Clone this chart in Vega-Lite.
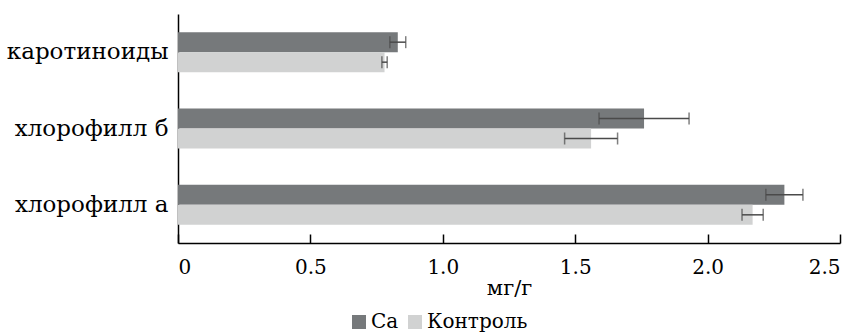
{
  "$schema": "https://vega.github.io/schema/vega-lite/v6.json",
  "autosize": {"type": "none"},
  "padding": {"left": 178, "top": 14, "right": 16, "bottom": 90},
  "width": 662,
  "height": 229,
  "background": "white",
  "config": {
    "font": "DejaVu Serif",
    "view": {"stroke": null},
    "axis": {"grid": false, "domainColor": "black", "tickColor": "black", "labelColor": "black", "titleColor": "black", "labelFont": "DejaVu Serif", "titleFont": "DejaVu Serif", "titleFontWeight": "normal", "labelFontSize": 20, "titleFontSize": 21, "domainWidth": 1.5, "tickWidth": 1.5},
    "legend": {"labelFontSize": 20, "labelColor": "black", "labelFont": "DejaVu Serif"}
  },
  "data": {
    "values": [
      {"pigment": "каротиноиды", "group": "Ca", "value": 0.83, "low": 0.80, "high": 0.86},
      {"pigment": "каротиноиды", "group": "Контроль", "value": 0.78, "low": 0.77, "high": 0.79},
      {"pigment": "хлорофилл б", "group": "Ca", "value": 1.76, "low": 1.59, "high": 1.93},
      {"pigment": "хлорофилл б", "group": "Контроль", "value": 1.56, "low": 1.46, "high": 1.66},
      {"pigment": "хлорофилл а", "group": "Ca", "value": 2.29, "low": 2.22, "high": 2.36},
      {"pigment": "хлорофилл а", "group": "Контроль", "value": 2.17, "low": 2.13, "high": 2.21}
    ]
  },
  "encoding": {
    "y": {"field": "pigment", "type": "nominal", "sort": ["каротиноиды", "хлорофилл б", "хлорофилл а"], "scale": {"paddingInner": 0.476, "paddingOuter": 0.238}, "axis": {"title": null, "ticks": false, "labelPadding": 10, "labelLimit": 200, "labelFont": "DejaVu Serif", "labelFontSize": 23}},
    "yOffset": {"field": "group", "type": "nominal", "sort": ["Ca", "Контроль"], "scale": {"paddingInner": 0, "paddingOuter": 0}}
  },
  "layer": [
    {
      "mark": {"type": "bar"},
      "encoding": {
        "x": {"field": "value", "type": "quantitative", "scale": {"domain": [0, 2.5], "nice": false}, "axis": {"title": "мг/г", "labelFont": "DejaVu Serif", "titleFont": "DejaVu Serif", "labelFontSize": 20, "values": [0, 0.5, 1, 1.5, 2, 2.5], "labelExpr": "datum.value == 0 ? '0' : format(datum.value, '.1f')", "tickSize": -9, "labelPadding": 23, "titlePadding": 0}},
        "color": {"field": "group", "type": "nominal", "sort": ["Ca", "Контроль"], "scale": {"domain": ["Ca", "Контроль"], "range": ["#76797b", "#d1d2d2"]}, "legend": {"title": null, "orient": "none", "direction": "horizontal", "legendX": 171, "legendY": 298, "symbolType": "square", "symbolSize": 196, "symbolStrokeWidth": 0, "symbolOpacity": 1, "labelOffset": 2, "columnPadding": 6}}
      }
    },
    {
      "mark": {"type": "rule", "color": "#4a4a4a", "strokeWidth": 1.5},
      "encoding": {"x": {"field": "low", "type": "quantitative"}, "x2": {"field": "high"}}
    },
    {
      "mark": {"type": "tick", "color": "#4a4a4a", "thickness": 1.5, "size": 12, "orient": "vertical"},
      "encoding": {"x": {"field": "low", "type": "quantitative"}}
    },
    {
      "mark": {"type": "tick", "color": "#4a4a4a", "thickness": 1.5, "size": 12, "orient": "vertical"},
      "encoding": {"x": {"field": "high", "type": "quantitative"}}
    }
  ]
}
